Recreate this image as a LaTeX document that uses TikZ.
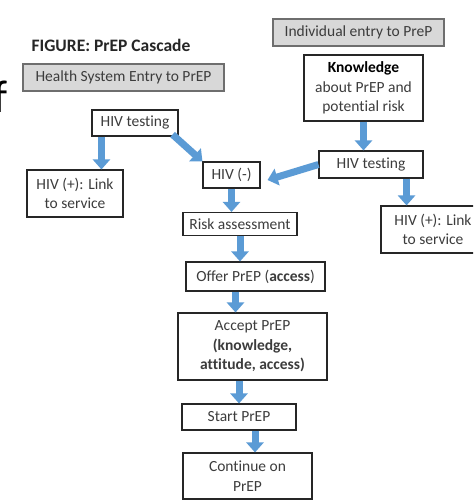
\documentclass[tikz,border=0pt]{standalone}
\usepackage{fontspec}
\setmainfont{Carlito}[Ligatures=NoCommon]
\usetikzlibrary{arrows.meta,calc}
\definecolor{txt}{RGB}{60,60,60}
\definecolor{arrowblue}{RGB}{91,155,213}
\definecolor{grayfill}{RGB}{216,216,216}
\definecolor{grayline}{RGB}{110,110,110}
\tikzset{
  box/.style={draw=black!85, line width=1.1pt, fill=white, inner sep=0pt, align=center,
    text=txt, font=\fontsize{15.5}{19.5}\selectfont},
  graybox/.style={draw=grayline, line width=1.1pt, fill=grayfill, inner sep=0pt, align=center,
    text=txt, font=\fontsize{15.5}{18}\selectfont},
  barrow/.style={draw=arrowblue, line width=7pt,
    -{Triangle[width=17pt,length=10pt]}}
}
\begin{document}
\begin{tikzpicture}[x=1pt,y=-1pt]
\clip (0,0) rectangle (473,502);
\fill[white] (0,0) rectangle (473,502);
% stray glyph at the left edge
\node[anchor=base west, inner sep=0pt, font=\fontsize{46}{46}\selectfont, text=black] (fglyph) at (-7,113) {f};
% title
\node[inner sep=0pt, font=\bfseries\fontsize{17.5}{20}\selectfont, text=black!85] (title) at (111,45) {FIGURE: PrEP Cascade};
% entry boxes
\node[graybox, minimum width=201pt, minimum height=27pt] (hs) at (123.5,77.5) {Health System Entry to PrEP};
\node[graybox, minimum width=171pt, minimum height=27pt] (ind) at (358.5,32.5) {Individual entry to PreP};
% boxes
\node[box, minimum width=119pt, minimum height=66pt] (know) at (363.5,88) {\textbf{\color{black}Knowledge}\\about PrEP and\\potential risk};
\node[box, minimum width=86pt, minimum height=26pt] (hivtl) at (135,123) {HIV testing};
\node[box, minimum width=96pt, minimum height=47pt] (hivpl) at (75,193.5) {HIV (+): Link\\to service};
\node[box, minimum width=104pt, minimum height=27pt] (hivtr) at (371,164.5) {HIV testing};
\node[box, minimum width=104pt, minimum height=47pt] (hivpr) at (433,229.5) {HIV (+): Link\\to service};
\node[box, minimum width=57pt, minimum height=26pt] (hivneg) at (231.5,175) {HIV (-)};
\node[box, minimum width=114pt, minimum height=23pt] (risk) at (240,224) {Risk assessment};
\node[box, minimum width=139pt, minimum height=29pt] (offer) at (255.5,276.5) {Offer PrEP (\textbf{access})};
\node[box, minimum width=149pt, minimum height=67pt] (accept) at (252.5,346.5) {Accept PrEP\\\textbf{(knowledge,}\\\textbf{attitude, access)}};
\node[box, minimum width=114pt, minimum height=26pt] (start) at (239,417) {Start PrEP};
\node[box, minimum width=129pt, minimum height=46pt] (cont) at (247.5,476) {Continue on\\PrEP};
% arrow anchor points
\coordinate (a1) at ([xshift=10pt]hivtl.south west);
\coordinate (a4) at ([xshift=-20pt]offer.south);
\coordinate (a6) at ([xshift=16pt]start.south);
\coordinate (a8) at ([xshift=-17pt]hivtr.south east);
\coordinate (d1) at ([xshift=-6pt,yshift=2pt]hivtl.south east);
\coordinate (d2) at ([xshift=7pt,yshift=-5pt]hivneg.east);
% arrows
\draw[barrow] (a1) -- (a1 |- hivpl.north);
\draw[barrow] (d1) -- (hivneg.north west);
\draw[barrow] (hivtr.west) -- (d2);
\draw[barrow] (know.south) -- (know.south |- hivtr.north);
\draw[barrow] (a8) -- (a8 |- hivpr.north);
\draw[barrow] (hivneg.south) -- (hivneg.south |- risk.north);
\draw[barrow] (risk.south) -- (risk.south |- offer.north);
\draw[barrow] (a4) -- (a4 |- accept.north);
\draw[barrow] (accept.south -| start.north) -- (start.north);
\draw[barrow] (a6) -- (a6 |- cont.north);
\end{tikzpicture}
\end{document}
